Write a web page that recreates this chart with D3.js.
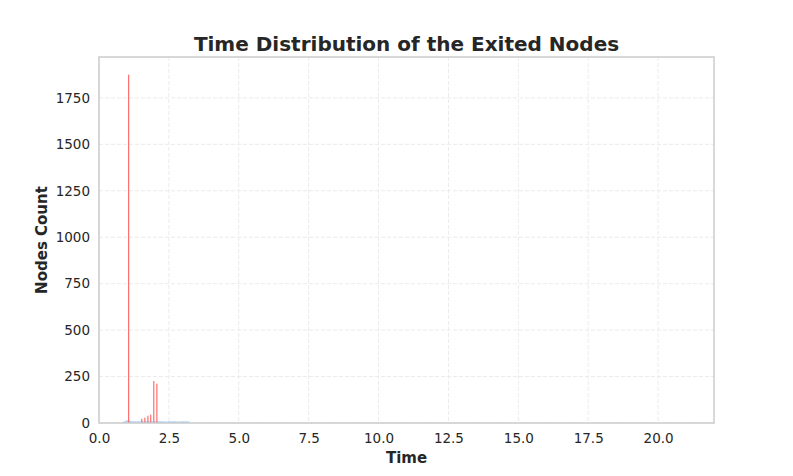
<!DOCTYPE html>
<html><head><meta charset="utf-8">
<script src="https://cdn.jsdelivr.net/npm/d3@7"></script>
<style>body{margin:0;background:#fff;} svg{display:block;}</style>
</head><body>
<svg id="chart" width="793" height="476"></svg>
<script>
// Red series: exited-node times (bin start) and counts
const redTimes  = [1.04, 1.51, 1.62, 1.73, 1.83, 1.94, 2.05];
const redCounts = [1875, 23, 29, 39, 45, 226, 212];
// Blue series: background distribution (bin start) and counts
const blueTimes  = [0.85, 0.95, 1.05, 1.15, 1.25, 1.35, 1.45, 1.55, 1.65, 1.75, 1.85, 1.95, 2.05, 2.15, 2.25, 2.35, 2.45, 2.55, 2.65, 2.75, 2.85, 2.95, 3.05, 3.15];
const blueCounts = [8, 14, 12, 9, 9, 9, 9, 9, 9, 9, 9, 9, 9, 9, 9, 8, 9, 9, 9, 8, 8, 9, 9, 8];
const xTicks = [0, 2.5, 5, 7.5, 10, 12.5, 15, 17.5, 20];
const yTicks = [0, 250, 500, 750, 1000, 1250, 1500, 1750];

const svg = d3.select("#chart");
const m = {l: 99, r: 714, t: 57, b: 423};
const x = d3.scaleLinear().domain([0, 22]).range([m.l, m.r]);
const y = d3.scaleLinear().domain([0, 1970]).range([m.b, m.t]);
const font = "DejaVu Sans, sans-serif";

// grid
const g = svg.append("g");
g.selectAll(".vx").data(xTicks).join("line")
  .attr("x1", d => x(d)).attr("x2", d => x(d)).attr("y1", m.t).attr("y2", m.b)
  .attr("stroke", "#ebebeb").attr("stroke-width", 1).attr("stroke-dasharray", "4,2");
g.selectAll(".hy").data(yTicks).join("line")
  .attr("x1", m.l).attr("x2", m.r).attr("y1", d => y(d)).attr("y2", d => y(d))
  .attr("stroke", "#ebebeb").attr("stroke-width", 1).attr("stroke-dasharray", "4,2");

// blue bars
const bw = 0.1;
svg.append("g").selectAll("rect").data(blueTimes.map((t, i) => [t, blueCounts[i]])).join("rect")
  .attr("x", d => x(d[0])).attr("width", x(bw) - x(0))
  .attr("y", d => y(d[1])).attr("height", d => y(0) - y(d[1]))
  .attr("fill", "#9fcbf2").attr("opacity", 0.9);

// red bars
const rw = 0.04;
svg.append("g").selectAll("rect").data(redTimes.map((t, i) => [t, redCounts[i]])).join("rect")
  .attr("x", d => x(d[0])).attr("width", x(rw) - x(0))
  .attr("y", d => y(d[1])).attr("height", d => y(0) - y(d[1]))
  .attr("fill", "#ff4a4a").attr("opacity", 0.85);

// frame
svg.append("rect").attr("x", m.l).attr("y", m.t).attr("width", m.r - m.l).attr("height", m.b - m.t)
  .attr("fill", "none").attr("stroke", "#cccccc").attr("stroke-width", 1.5);

// axes
const xa = svg.append("g").attr("transform", `translate(0,${m.b})`)
  .call(d3.axisBottom(x).tickValues(xTicks).tickFormat(d3.format(".1f")).tickSize(0).tickPadding(10));
const ya = svg.append("g").attr("transform", `translate(${m.l},0)`)
  .call(d3.axisLeft(y).tickValues(yTicks).tickFormat(d3.format("d")).tickSize(0).tickPadding(9));
[xa, ya].forEach(a => {
  a.select(".domain").remove();
  a.selectAll("text").attr("font-family", font).attr("font-size", 13.5).attr("fill", "#262626");
});

svg.append("text").attr("x", (m.l + m.r) / 2).attr("y", 51).attr("text-anchor", "middle")
  .attr("font-family", font).attr("font-weight", "bold").attr("font-size", 20).attr("fill", "#262626")
  .text("Time Distribution of the Exited Nodes");
svg.append("text").attr("x", (m.l + m.r) / 2).attr("y", 463).attr("text-anchor", "middle")
  .attr("font-family", font).attr("font-weight", "bold").attr("font-size", 15).attr("fill", "#262626")
  .text("Time");
svg.append("text").attr("transform", `translate(47,${(m.t + m.b) / 2}) rotate(-90)`).attr("text-anchor", "middle")
  .attr("font-family", font).attr("font-weight", "bold").attr("font-size", 15).attr("fill", "#262626")
  .text("Nodes Count");
</script>
</body></html>
